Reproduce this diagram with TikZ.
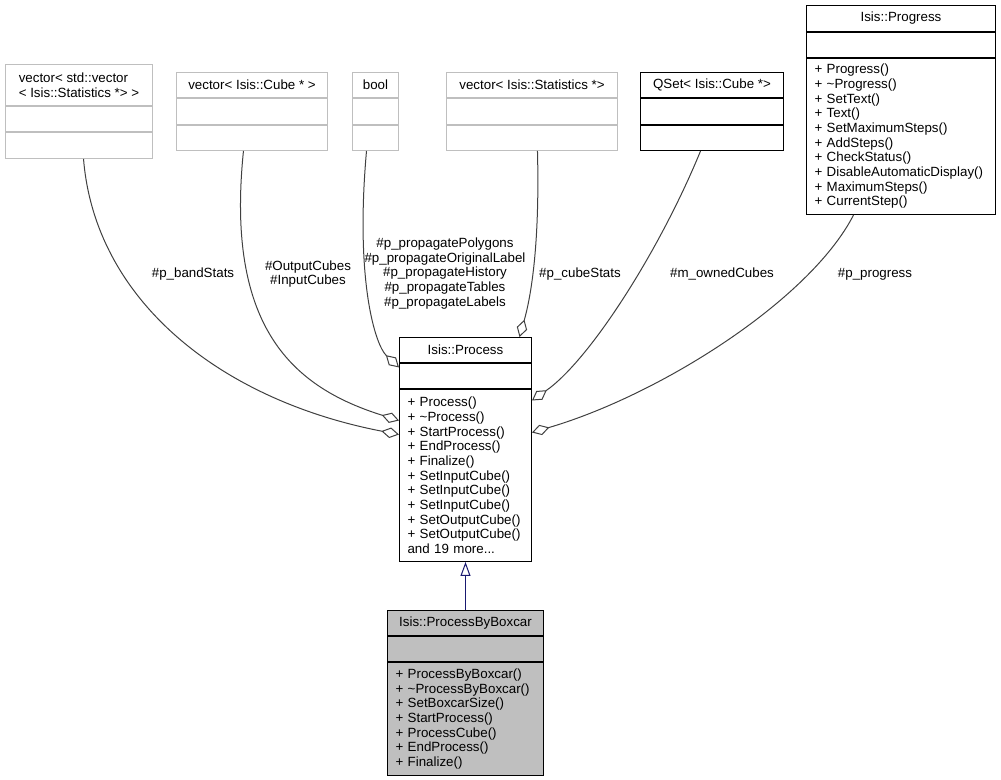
\documentclass[tikz,border=0pt]{standalone}
\usepackage{fontspec}
\setmainfont{Liberation Sans}
\usetikzlibrary{positioning,arrows.meta}
\definecolor{midnight}{HTML}{191970}
\definecolor{edgegray}{HTML}{404040}
\definecolor{lightborder}{HTML}{BFBFBF}
\definecolor{basefill}{HTML}{BFBFBF}

\tikzset{
  box/.style={draw=black, fill=white, line width=0.75pt, inner sep=0pt, font=\fontsize{10pt}{11pt}\selectfont},
  greybox/.style={box, draw=lightborder},
  title/.style={minimum height=18.75pt, align=center},
  attrs/.style={minimum height=18.75pt},
  ops/.style={align=left, inner xsep=6pt, inner ysep=4pt},
  agg/.style={draw=edgegray, line width=0.75pt, -{Diamond[fill=white,length=13.5pt,width=8pt]}},
  inherit/.style={draw=midnight, line width=0.75pt, -{Triangle[fill=white,length=10.5pt,width=7.5pt]}},
  lbl/.style={font=\fontsize{10pt}{11pt}\selectfont, align=center, inner sep=0pt}
}

\begin{document}
\begin{tikzpicture}[x=0.75pt,y=-0.75pt]
\useasboundingbox (0,0) rectangle (1001,780);

\node[greybox, minimum width=110.25pt, minimum height=30.75pt, align=left, anchor=north west] (vecvec) at (5,64) {vector< std::vector\\< Isis::Statistics *> >};
\node[greybox, attrs, minimum width=110.25pt, below=0pt of vecvec] (vecvec-a) {};
\node[greybox, minimum width=110.25pt, minimum height=19.5pt, below=0pt of vecvec-a] (vecvec-m) {};

\node[greybox, title, minimum width=113.25pt, anchor=north west] (veccube) at (176,72) {vector< Isis::Cube * >};
\node[greybox, minimum width=113.25pt, minimum height=19.5pt, below=0pt of veccube] (veccube-a) {};
\node[greybox, attrs, minimum width=113.25pt, below=0pt of veccube-a] (veccube-m) {};

\node[greybox, title, minimum width=34.5pt, anchor=north west] (boolean) at (352,72) {bool};
\node[greybox, minimum width=34.5pt, minimum height=19.5pt, below=0pt of boolean] (boolean-a) {};
\node[greybox, attrs, minimum width=34.5pt, below=0pt of boolean-a] (boolean-m) {};

\node[greybox, title, minimum width=128.25pt, anchor=north west] (vecstat) at (446,72) {vector< Isis::Statistics *>};
\node[greybox, minimum width=128.25pt, minimum height=19.5pt, below=0pt of vecstat] (vecstat-a) {};
\node[greybox, attrs, minimum width=128.25pt, below=0pt of vecstat-a] (vecstat-m) {};

\node[box, title, minimum width=107.25pt, anchor=north west] (qset) at (640,72) {QSet< Isis::Cube *>};
\node[box, minimum width=107.25pt, minimum height=19.5pt, below=0pt of qset] (qset-a) {};
\node[box, attrs, minimum width=107.25pt, below=0pt of qset-a] (qset-m) {};

\node[box, title, minimum width=141.75pt, minimum height=19.5pt, anchor=north west] (progress) at (806,5) {Isis::Progress};
\node[box, attrs, minimum width=141.75pt, below=0pt of progress] (progress-a) {};
\node[box, ops, text width=129.75pt, minimum height=117pt, below=0pt of progress-a] (progress-m) {+ Progress()\\+ \textasciitilde Progress()\\+ SetText()\\+ Text()\\+ SetMaximumSteps()\\+ AddSteps()\\+ CheckStatus()\\+ DisableAutomaticDisplay()\\+ MaximumSteps()\\+ CurrentStep()};

\node[box, title, minimum width=99pt, anchor=north west] (process) at (399,337) {Isis::Process};
\node[box, attrs, minimum width=99pt, below=0pt of process] (process-a) {};
\node[box, ops, text width=87pt, minimum height=129pt, below=0pt of process-a] (process-m) {+ Process()\\+ \textasciitilde Process()\\+ StartProcess()\\+ EndProcess()\\+ Finalize()\\+ SetInputCube()\\+ SetInputCube()\\+ SetInputCube()\\+ SetOutputCube()\\+ SetOutputCube()\\and 19 more...};

\node[box, fill=basefill, title, minimum width=117pt, anchor=north west] (boxcar) at (387,610) {Isis::ProcessByBoxcar};
\node[box, fill=basefill, attrs, minimum width=117pt, below=0pt of boxcar] (boxcar-a) {};
\node[box, fill=basefill, ops, text width=105pt, minimum height=84.75pt, below=0pt of boxcar-a] (boxcar-m) {+ ProcessByBoxcar()\\+ \textasciitilde ProcessByBoxcar()\\+ SetBoxcarSize()\\+ StartProcess()\\+ ProcessCube()\\+ EndProcess()\\+ Finalize()};

\draw[agg] ([xshift=3.4pt]vecvec-m.south) .. controls (95,300) and (220,400) .. ([yshift=30.75pt]process-m.west);
\draw[agg] ([xshift=-6.4pt]veccube-m.south) .. controls (225,330) and (295,388) .. ([yshift=41.25pt]process-m.west);
\draw[agg] ([xshift=-6.75pt]boolean-m.south) .. controls (355,280) and (375,345) .. ([yshift=6.4pt]process-a.west);
\draw[agg] ([xshift=4.1pt]vecstat-m.south) .. controls (540,250) and (530,300) .. ([xshift=40.5pt]process.north);
\draw[agg] ([xshift=-8.6pt]qset-m.south) .. controls (660,250) and (590,360) .. ([yshift=56.25pt]process-m.east);
\draw[agg] ([xshift=-35.6pt]progress-m.south) .. controls (810,300) and (660,395) .. ([yshift=32.25pt]process-m.east);
\draw[inherit] (boxcar.north) -- (process-m.south);

\node[lbl] (l-band) at (193,274) {\#p\_bandStats};
\node[lbl] (l-cubes) at (308,274) {\#OutputCubes\\\#InputCubes};
\node[lbl] (l-flags) at (445,273.5) {\#p\_propagatePolygons\\\#p\_propagateOriginalLabel\\\#p\_propagateHistory\\\#p\_propagateTables\\\#p\_propagateLabels};
\node[lbl] (l-cstat) at (580,274) {\#p\_cubeStats};
\node[lbl] (l-owned) at (722,274) {\#m\_ownedCubes};
\node[lbl] (l-prog) at (875,274) {\#p\_progress};
\end{tikzpicture}
\end{document}
